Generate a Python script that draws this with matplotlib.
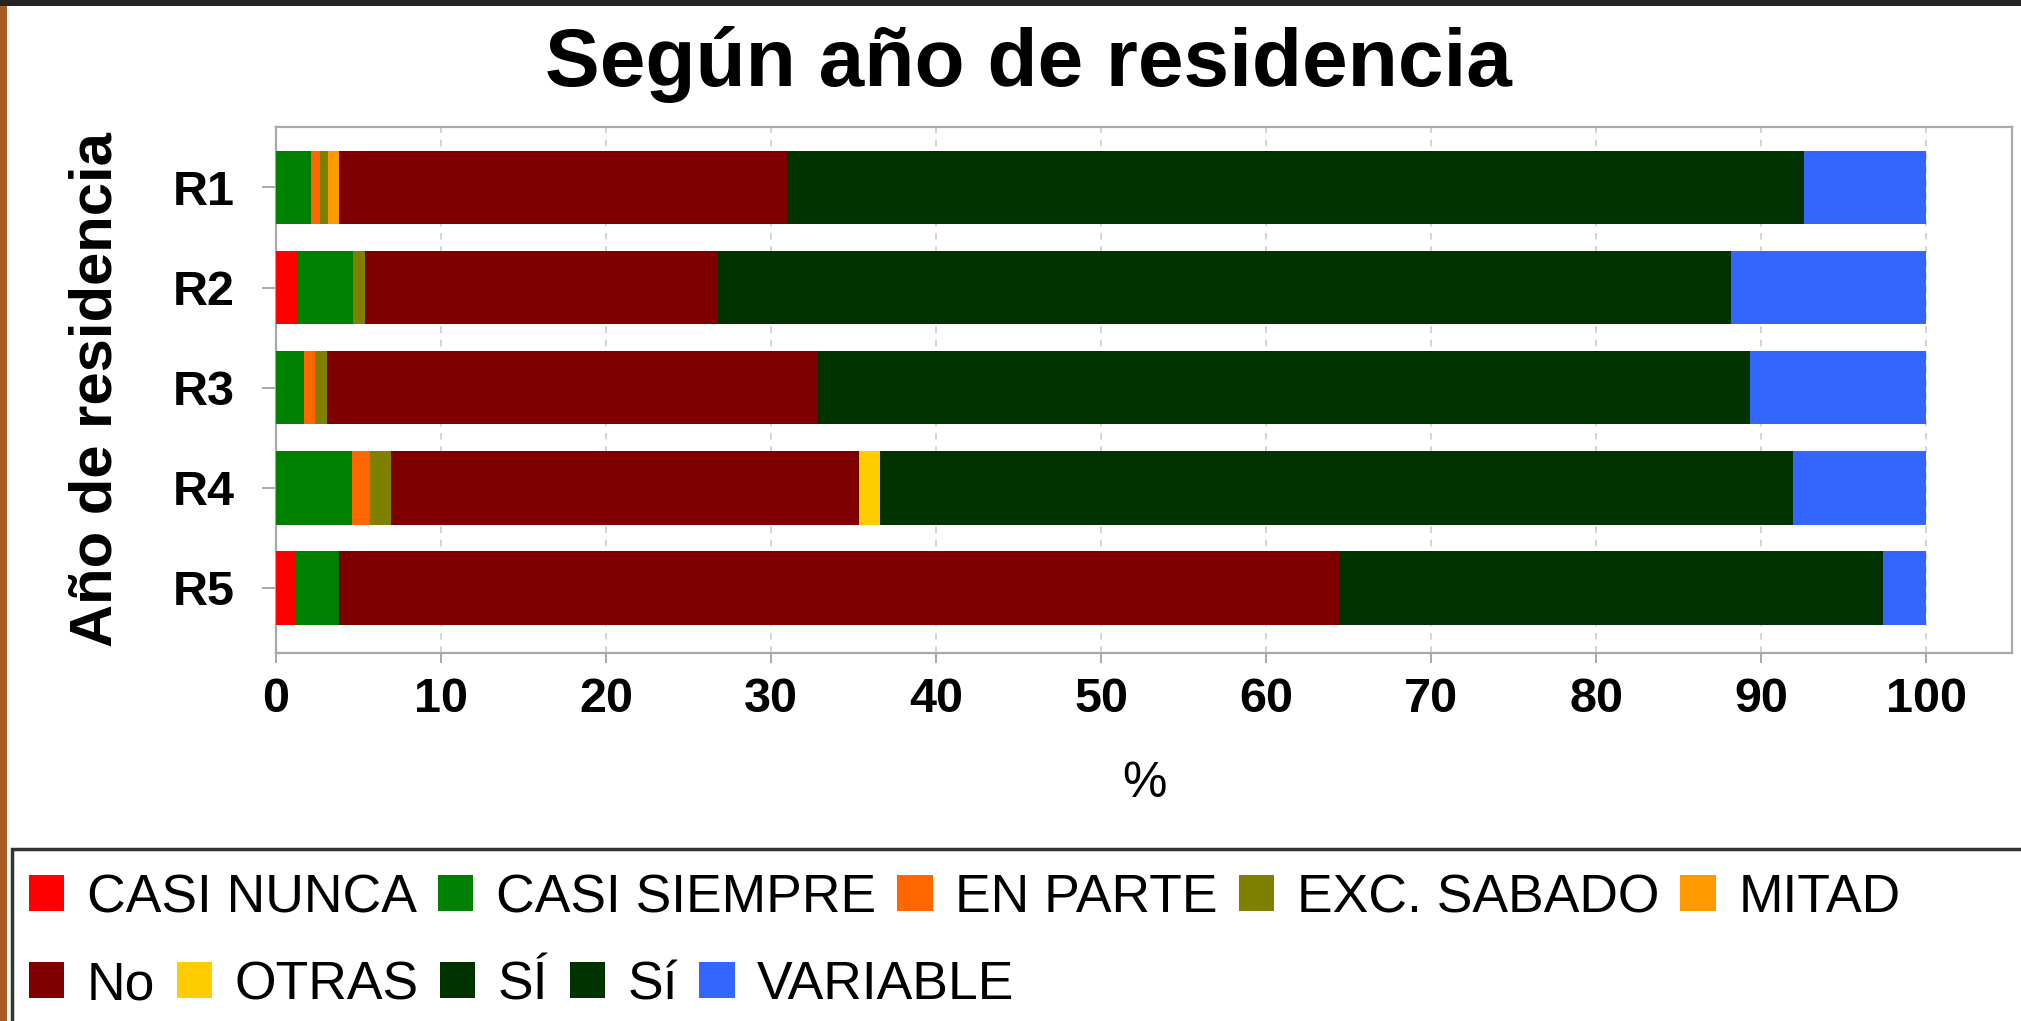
import numpy as np
import matplotlib.pyplot as plt
from matplotlib.patches import Rectangle, Patch

plt.rcParams['font.family'] = ['Liberation Sans', 'DejaVu Sans']

rows = ['R1', 'R2', 'R3', 'R4', 'R5']
labels = ['CASI NUNCA', 'CASI SIEMPRE', 'EN PARTE', 'EXC. SABADO', 'MITAD',
          'No', 'OTRAS', 'SÍ', 'Sí', 'VARIABLE']
colors = ['#ff0000', '#008000', '#ff6600', '#808000', '#ff9900',
          '#800000', '#ffcc00', '#003300', '#003300', '#3366ff']

# percentages per row (R1..R5)
casi_nunca = [0.0, 1.25, 0.0, 0.0, 1.15]
casi_siempre = [2.1, 3.4, 1.72, 4.59, 2.69]
en_parte = [0.57, 0.0, 0.64, 1.11, 0.0]
exc_sabado = [0.5, 0.74, 0.71, 1.25, 0.0]
mitad = [0.67, 0.0, 0.0, 0.0, 0.0]
no = [27.13, 21.41, 29.8, 28.38, 60.66]
otras = [0.0, 0.0, 0.0, 1.27, 0.0]
si_upper = [0.0, 0.0, 0.0, 0.35, 0.0]
si = [61.63, 61.4, 56.43, 54.95, 32.9]
variable = [7.4, 11.8, 10.7, 8.1, 2.6]

series = [casi_nunca, casi_siempre, en_parte, exc_sabado, mitad,
          no, otras, si_upper, si, variable]

W, H = 2021, 1021
fig = plt.figure(figsize=(W / 100, H / 100), dpi=100)
fig.patch.set_facecolor('white')

ax = fig.add_axes([276 / W, 1 - 653 / H, (2012 - 276) / W, (653 - 127) / H])

y = np.arange(len(rows))
left = np.zeros(len(rows))
for vals, lab, c in zip(series, labels, colors):
    vals = np.array(vals)
    ax.barh(y, vals, left=left, height=0.735, color=c, label=lab,
            linewidth=0, zorder=3)
    left += vals

ax.set_xlim(0, 105.2)
ax.set_ylim(4.65, -0.604)
ax.set_xticks(np.arange(0, 101, 10))
ax.set_yticks(y)
ax.set_yticklabels(rows)

ax.xaxis.grid(True, linestyle=(0, (4, 4)), color='#cccccc', linewidth=1.2, zorder=1)
ax.set_axisbelow(True)
for s in ax.spines.values():
    s.set_color('#a8a8a8')
    s.set_linewidth(1.6)

ax.tick_params(axis='x', length=7, width=1.4, color='#a8a8a8', pad=10,
               labelsize=35)
ax.tick_params(axis='y', length=10, width=1.4, color='#a8a8a8', pad=20,
               labelsize=35)
for t in ax.get_xticklabels() + ax.get_yticklabels():
    t.set_fontweight('bold')

ax.set_xlabel('%', fontsize=36)
ax.xaxis.set_label_coords(0.5, -0.205)
ax.set_ylabel('Año de residencia', fontsize=43, fontweight='bold')
ax.yaxis.set_label_coords(-0.088, 0.5)

fig.text(1028 / W, 1 - 86 / H, 'Según año de residencia', fontsize=59,
         fontweight='bold', ha='center', va='baseline')

# legend box
fig.add_artist(Rectangle((12 / W, -0.05), 1.05, 1 - 849 / H + 0.05,
                         transform=fig.transFigure, facecolor='white',
                         edgecolor='#333333', linewidth=2.5, zorder=0))

handles = [Patch(facecolor=c, edgecolor='none') for c in colors]
leg_kw = dict(loc='center left', frameon=False, fontsize=38.5, borderpad=0,
              borderaxespad=0, handlelength=0.66, handleheight=0.66,
              handletextpad=0.42, columnspacing=0.4, ncol=5)
fig.legend(handles[:5], labels[:5], bbox_to_anchor=(29 / W, 1 - 898 / H), **leg_kw)
fig.legend(handles[5:], labels[5:], bbox_to_anchor=(29 / W, 1 - 985 / H), **leg_kw)

# frame decorations
fig.add_artist(Rectangle((0, 1 - 6 / H), 1, 6 / H, transform=fig.transFigure,
                         facecolor='#252525', edgecolor='none'))
fig.add_artist(Rectangle((0, 0), 7 / W, 1 - 6 / H, transform=fig.transFigure,
                         facecolor='#a65a24', edgecolor='none'))

fig.savefig('out.png', dpi=100)
